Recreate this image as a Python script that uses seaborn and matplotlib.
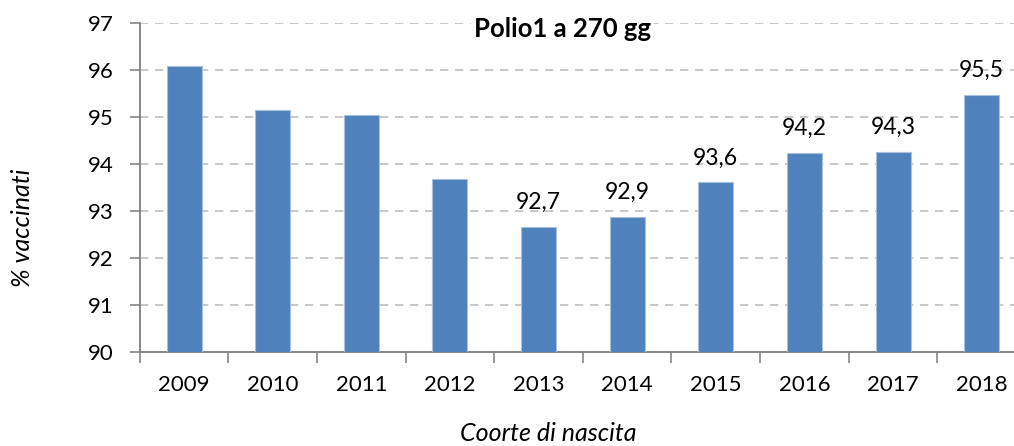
import matplotlib
matplotlib.use("Agg")
import matplotlib.pyplot as plt
import seaborn as sns
import pandas as pd
import numpy as np

# ---- data ----
years = ["2009", "2010", "2011", "2012", "2013", "2014", "2015", "2016", "2017", "2018"]
coverage = [96.08, 95.15, 95.05, 93.68, 92.66, 92.87, 93.61, 94.23, 94.26, 95.48]
value_labels = ["", "", "", "", "92,7", "92,9", "93,6", "94,2", "94,3", "95,5"]
y_ticks = [90, 91, 92, 93, 94, 95, 96, 97]
title = "Polio1 a 270 gg"
x_title = "Coorte di nascita"
y_title = "% vaccinati"

sns.set_theme(style="white")
plt.rcParams["font.family"] = ["Lato", "DejaVu Sans"]

df = pd.DataFrame({"anno": years, "pct": coverage})

fig = plt.figure(figsize=(10.14, 4.46), dpi=100)
ax = fig.add_axes([0.1378, 0.2115, 0.874, 0.7365])

sns.barplot(data=df, x="anno", y="pct", color="#4F81BD", saturation=1,
            width=0.395, edgecolor="#A7C0DE", linewidth=0.8, ax=ax, zorder=3)

ax.set_ylim(90, 97)
ax.set_xlim(-0.5, len(years) - 0.5)
ax.set_yticks(y_ticks)
ax.set_yticklabels([str(t) for t in y_ticks], fontsize=16, color="#000000")
ax.tick_params(axis="x", which="major", length=0, pad=17, labelsize=16, labelcolor="#000000")
ax.set_xticks(np.arange(-0.5, len(years), 1.0), minor=True)
ax.tick_params(axis="x", which="minor", length=8, width=1.2, color="#868686", direction="out", bottom=True)
ax.tick_params(axis="y", length=7, width=1.2, color="#868686", direction="out", left=True, pad=12)

ax.yaxis.grid(True, linestyle=(0, (5, 4)), color="#BFBFBF", linewidth=1.2, zorder=0)
ax.xaxis.grid(False)
ax.set_axisbelow(True)

for s in ["top", "right"]:
    ax.spines[s].set_visible(False)
for s in ["left", "bottom"]:
    ax.spines[s].set_color("#868686")
    ax.spines[s].set_linewidth(1.4)

for i, (v, lab) in enumerate(zip(coverage, value_labels)):
    if lab:
        ax.annotate(lab, xy=(i, v), xytext=(0, 10), textcoords="offset points",
                    ha="center", va="bottom", fontsize=16.5, color="#000000", zorder=4)

ax.set_xlabel("")
ax.set_ylabel("")
ax.text(0.477, 0.957, title, transform=ax.transAxes, ha="center", va="baseline",
        fontsize=18.5, fontweight="bold", color="#000000", zorder=5,
        bbox=dict(facecolor="white", edgecolor="none", pad=2))

fig.text(0.022, 0.489, y_title, rotation=90, ha="center", va="center",
         fontsize=18, fontstyle="italic", color="#000000")
fig.text(0.541, 0.028, x_title, ha="center", va="center",
         fontsize=18, fontstyle="italic", color="#000000")

fig.savefig("out.png", dpi=100)
